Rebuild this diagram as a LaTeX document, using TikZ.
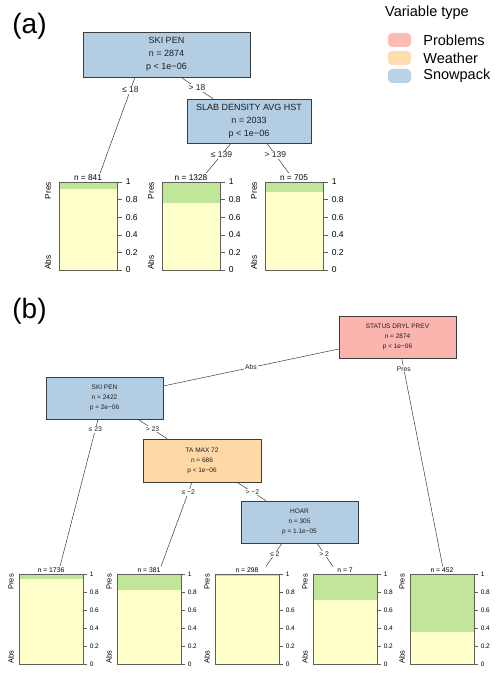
\documentclass[tikz,border=0pt]{standalone}
\usepackage{fontspec}
\setmainfont{Liberation Sans}
\usetikzlibrary{calc, positioning}
\definecolor{probcol}{HTML}{FBB4AE}
\definecolor{wxcol}{HTML}{FED9A6}
\definecolor{snowcol}{HTML}{B3CDE3}
\definecolor{abscol}{HTML}{FFFFCC}
\definecolor{prescol}{HTML}{C2E699}
\definecolor{linecol}{RGB}{60, 60, 60}
\definecolor{barline}{RGB}{95, 95, 85}
\definecolor{txtcol}{RGB}{30, 30, 30}
\tikzset{
  split/.style  = {draw=linecol, fill=snowcol, align=center, inner sep=0pt,
                   text=txtcol, line width=0.6pt},
  splitA/.style = {split, font=\fontsize{9}{13}\selectfont, minimum height=45},
  splitB/.style = {split, font=\fontsize{6.5}{10}\selectfont,
                   minimum width=117, minimum height=42},
  edge/.style   = {draw=linecol, line width=0.5pt},
  elblA/.style  = {fill=white, inner sep=1pt, text=txtcol,
                   font=\fontsize{8.5}{10}\selectfont},
  elblB/.style  = {fill=white, inner sep=0.8pt, text=txtcol,
                   font=\fontsize{6.8}{8}\selectfont},
  % terminal panels
  barA/.style   = {draw=barline, line width=0.8pt, inner sep=0pt,
                   minimum width=58, minimum height=88},
  barB/.style   = {draw=barline, line width=0.8pt, inner sep=0pt,
                   minimum width=64, minimum height=90},
  nlblA/.style  = {inner sep=1pt, font=\fontsize{8.3}{10}\selectfont},
  nlblB/.style  = {inner sep=1pt, font=\fontsize{6.8}{8}\selectfont},
  clsA/.style   = {rotate=90, inner sep=0pt, font=\fontsize{8.3}{10}\selectfont},
  clsB/.style   = {rotate=90, inner sep=0pt, font=\fontsize{7.5}{9}\selectfont},
  tick/.style   = {draw=barline, line width=0.6pt},
  tickA/.style  = {inner sep=3.5pt, font=\fontsize{8.5}{10}\selectfont},
  tickB/.style  = {inner sep=2.5pt, font=\fontsize{6.5}{8}\selectfont},
  % legend
  swatch/.style = {rounded corners=4pt, minimum width=23, minimum height=14,
                   inner sep=0pt, fill opacity=0.9},
  legtxt/.style = {inner sep=0pt, font=\fontsize{14.5}{16}\selectfont},
  panellbl/.style = {inner sep=0pt, font=\fontsize{28}{30}\selectfont},
}

\begin{document}
\begin{tikzpicture}[x=1pt, y=-1pt]

  \useasboundingbox (0,0) rectangle (500,674);

  %% ---------------- legend ----------------
  \node[legtxt, anchor=base west] (legtitle) at (385,17) {Variable type};
  \foreach \i/\col/\txt in {0/probcol/Problems, 1/wxcol/Weather, 2/snowcol/Snowpack} {
    \node[swatch, fill=\col] (sw\i) at (399.5,40+18*\i) {};
    \node[legtxt, right=12pt of sw\i] (legl\i) {\txt};
  }

  %% ================ (a) ================
  \node[panellbl] (labA) at (29.5,26) {(a)};

  \node[splitA, minimum width=167] (rootA) at (166.5,54.5)
       {SKI PEN\\n = 2874\\p < 1e−06};
  \node[splitA, minimum width=124, minimum height=44] (slabA) at (249,121)
       {SLAB DENSITY AVG HST\\n = 2033\\p < 1e−06};

  \foreach \nm/\xl/\g/\nn in {1/59/7/841, 2/162/21.3/1328, 3/265/10.3/705} {
    \fill[abscol] (\xl,182) rectangle ++(58,88);
    \fill[prescol] (\xl,182) rectangle ++(58,\g);
    \node[barA] (tA\nm) at (\xl+29,226) {};
    \node[nlblA, anchor=south] (nA\nm) at (tA\nm.north) {n = \nn};
    \node[clsA, anchor=east] (presA\nm) at (\xl-11,182) {Pres};
    \node[clsA, anchor=west] (absA\nm) at (\xl-11,270) {Abs};
    \foreach \v/\t [count=\k] in {0/1, 17.6/0.8, 35.2/0.6, 52.8/0.4, 70.4/0.2, 88/0} {
      \draw[tick] (\xl+58,182+\v) -- ++(5,0) node[tickA, right] (tkA\nm-\k) {\t};
    }
  }

  \draw[edge] (rootA.south -| 135,0) -- node[elblA, pos=0.13] {≤ 18} (nA1.north -| 100,0);
  \draw[edge] (rootA.south -| 181,0) -- node[elblA, pos=0.5] {> 18} (slabA.north -| 213,0);
  \draw[edge] (slabA.south -| 231,0) -- node[elblA, pos=0.38] {≤ 139} (nA2.north -| 206,0);
  \draw[edge] (slabA.south -| 267,0) -- node[elblA, pos=0.38] {> 139} (nA3.north -| 289,0);

  %% ================ (b) ================
  \node[panellbl] (labB) at (29.5,311) {(b)};

  \node[splitB, fill=probcol] (drylB) at (397.5,337)
       {STATUS DRYL PREV\\n = 2874\\p < 1e−06};
  \node[splitB] (skiB) at (104.5,398) {SKI PEN\\n = 2422\\p = 2e−06};
  \node[splitB, fill=wxcol, minimum width=118, minimum height=43] (taB) at (202,460.5)
       {TA MAX 72\\n = 686\\p < 1e−06};
  \node[splitB] (hoarB) at (299.5,522) {HOAR\\n = 305\\p = 1.1e−05};

  \foreach \nm/\xl/\g/\nn in {1/19/5/1736, 2/117/16.3/381, 3/215/1.7/298,
                              4/313/25.7/7, 5/410/58/452} {
    \fill[abscol] (\xl,574) rectangle ++(64,90);
    \fill[prescol] (\xl,574) rectangle ++(64,\g);
    \node[barB] (tB\nm) at (\xl+32,619) {};
    \node[nlblB, anchor=south] (nB\nm) at (tB\nm.north) {n = \nn};
    \node[clsB, anchor=east] (presB\nm) at (\xl-8,574) {Pres};
    \node[clsB, anchor=west] (absB\nm) at (\xl-8,664) {Abs};
    \foreach \v/\t [count=\k] in {0/1, 18/0.8, 36/0.6, 54/0.4, 72/0.2, 90/0} {
      \draw[tick] (\xl+64,574+\v) -- ++(4,0) node[tickB, right] (tkB\nm-\k) {\t};
    }
  }

  \draw[edge] (drylB.west |- 0,349) -- node[elblB, pos=0.5] {Abs} (skiB.east |- 0,386);
  \draw[edge] (drylB.south -| 401.7,0) -- node[elblB, pos=0.05] {Pres} (nB5.north -| 442.7,0);
  \draw[edge] (skiB.south -| 98,0) -- node[elblB, pos=0.07] {≤ 23} (nB1.north -| 60,0);
  \draw[edge] (skiB.south -| 138,0) -- node[elblB, pos=0.5] {> 23} (taB.north -| 167,0);
  \draw[edge] (taB.south -| 192,0) -- node[elblB, pos=0.12] {≤ −2} (nB2.north -| 161,0);
  \draw[edge] (taB.south -| 237,0) -- node[elblB, pos=0.53] {> −2} (hoarB.north -| 266,0);
  \draw[edge] (hoarB.south -| 282,0) -- node[elblB, pos=0.45] {≤ 2} (nB3.north -| 266,0);
  \draw[edge] (hoarB.south -| 317,0) -- node[elblB, pos=0.45] {> 2} (nB4.north -| 333,0);

\end{tikzpicture}
\end{document}
